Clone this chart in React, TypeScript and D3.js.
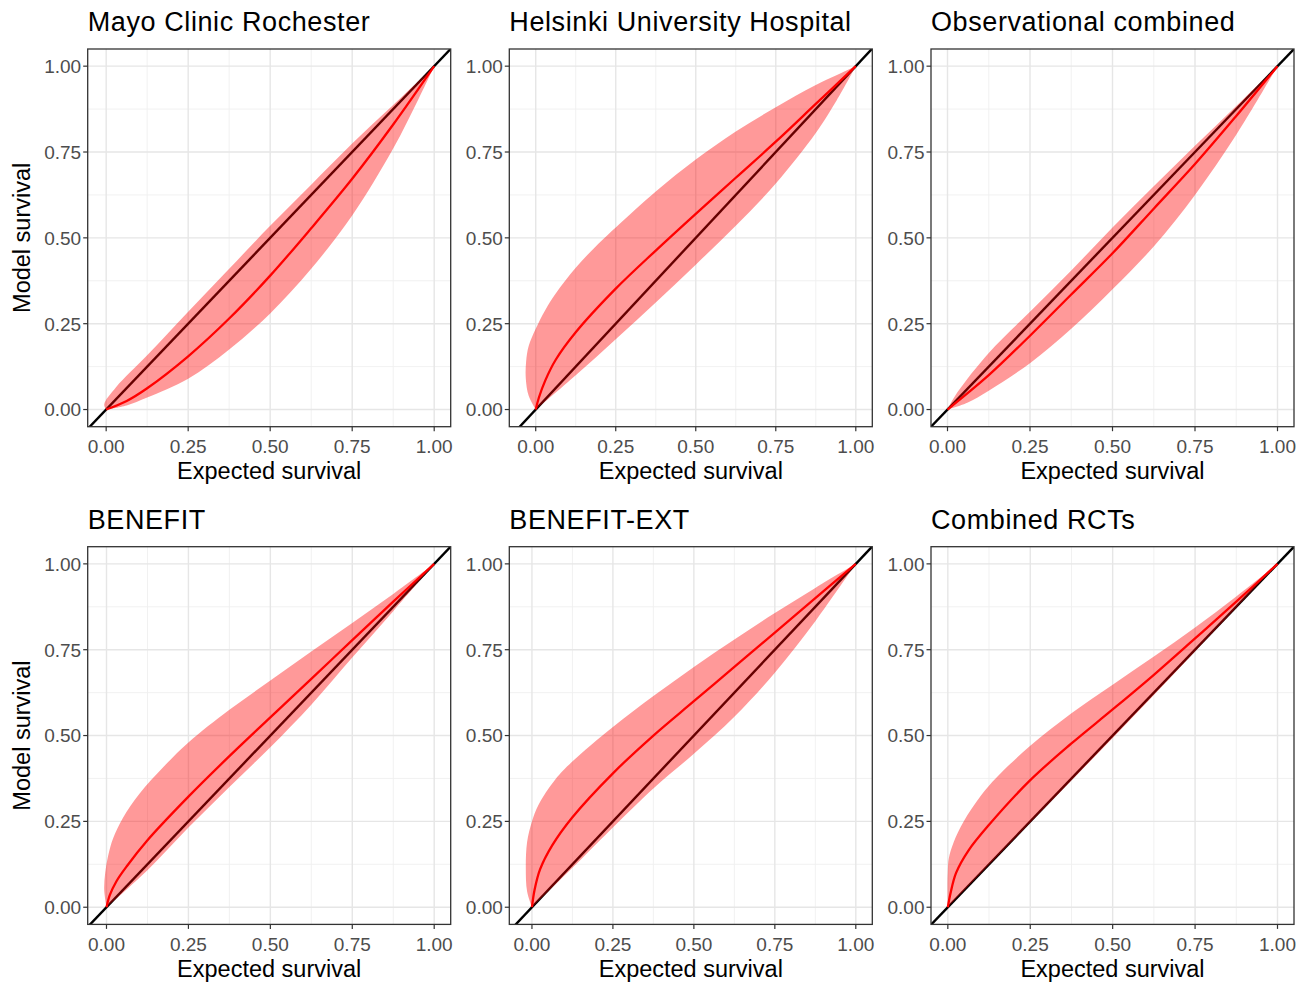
import React from "react";
import * as d3 from "d3";

type Pt = [number, number];

const panelTitles = [
  "Mayo Clinic Rochester",
  "Helsinki University Hospital",
  "Observational combined",
  "BENEFIT",
  "BENEFIT-EXT",
  "Combined RCTs",
];
const tickValues = [0, 0.25, 0.5, 0.75, 1];
const tickLabels = ["0.00", "0.25", "0.50", "0.75", "1.00"];
const minorValues = [0.125, 0.375, 0.625, 0.875];
const xAxisTitle = "Expected survival";
const yAxisTitle = "Model survival";

// Mayo Clinic Rochester
const mayoFit: Pt[] = [[0, 0], [0.0625, 0.025], [0.125, 0.062], [0.25, 0.155], [0.375, 0.265], [0.5, 0.39], [0.625, 0.528], [0.75, 0.672], [0.875, 0.83], [1, 1]];
const mayoUpper: Pt[] = [[0, 0], [-0.006, 0.015], [0.03, 0.065], [0.125, 0.158], [0.25, 0.285], [0.375, 0.41], [0.5, 0.535], [0.625, 0.655], [0.75, 0.775], [0.875, 0.887], [1, 1]];
const mayoLower: Pt[] = [[0, 0], [0.0625, 0.012], [0.125, 0.035], [0.25, 0.09], [0.375, 0.175], [0.5, 0.28], [0.625, 0.41], [0.75, 0.565], [0.875, 0.76], [0.95, 0.9], [1, 1]];

// Helsinki University Hospital
const helsinkiFit: Pt[] = [[0, 0], [0.01, 0.035], [0.03, 0.085], [0.0625, 0.145], [0.125, 0.225], [0.25, 0.352], [0.375, 0.463], [0.5, 0.57], [0.625, 0.675], [0.75, 0.78], [0.875, 0.89], [1, 1]];
const helsinkiUpper: Pt[] = [[0, 0], [-0.022, 0.04], [-0.031, 0.09], [-0.03, 0.14], [-0.022, 0.185], [0, 0.235], [0.03, 0.29], [0.0625, 0.338], [0.125, 0.413], [0.1875, 0.475], [0.25, 0.53], [0.375, 0.635], [0.5, 0.728], [0.625, 0.81], [0.75, 0.88], [0.875, 0.945], [1, 1]];
const helsinkiLower: Pt[] = [[0, 0], [0.125, 0.1], [0.25, 0.205], [0.375, 0.312], [0.5, 0.422], [0.625, 0.535], [0.75, 0.658], [0.875, 0.805], [0.94, 0.9], [1, 1]];

// Observational combined
const obsFit: Pt[] = [[0, 0], [0.125, 0.1], [0.25, 0.215], [0.375, 0.335], [0.5, 0.455], [0.625, 0.585], [0.75, 0.715], [0.875, 0.855], [1, 1]];
const obsUpper: Pt[] = [[0, 0], [0.03, 0.05], [0.125, 0.165], [0.25, 0.285], [0.375, 0.405], [0.5, 0.53], [0.625, 0.65], [0.75, 0.768], [0.875, 0.884], [1, 1]];
const obsLower: Pt[] = [[0, 0], [0.06, 0.02], [0.125, 0.055], [0.25, 0.135], [0.375, 0.235], [0.5, 0.35], [0.625, 0.475], [0.75, 0.625], [0.875, 0.8], [1, 1]];

// BENEFIT
const benefitFit: Pt[] = [[0, 0], [0.01, 0.035], [0.03, 0.075], [0.0625, 0.12], [0.125, 0.195], [0.25, 0.322], [0.375, 0.44], [0.5, 0.553], [0.625, 0.665], [0.75, 0.778], [0.875, 0.89], [1, 1]];
const benefitUpper: Pt[] = [[0, 0], [-0.007, 0.05], [-0.004, 0.1], [0.005, 0.15], [0.02, 0.2], [0.05, 0.26], [0.1, 0.33], [0.175, 0.41], [0.25, 0.48], [0.375, 0.575], [0.5, 0.66], [0.625, 0.745], [0.75, 0.828], [0.875, 0.912], [1, 1]];
const benefitLower: Pt[] = [[0, 0], [0.125, 0.108], [0.25, 0.232], [0.375, 0.35], [0.5, 0.466], [0.625, 0.59], [0.75, 0.727], [0.875, 0.862], [1, 1]];

// BENEFIT-EXT
const extFit: Pt[] = [[0, 0], [0.008, 0.05], [0.025, 0.11], [0.0625, 0.18], [0.125, 0.262], [0.25, 0.39], [0.375, 0.5], [0.5, 0.6], [0.625, 0.7], [0.75, 0.8], [0.875, 0.9], [1, 1]];
const extUpper: Pt[] = [[0, 0], [-0.015, 0.046], [-0.019, 0.114], [-0.015, 0.19], [0, 0.25], [0.02, 0.298], [0.072, 0.372], [0.123, 0.423], [0.25, 0.525], [0.375, 0.615], [0.5, 0.7], [0.625, 0.78], [0.75, 0.857], [0.875, 0.93], [1, 1]];
const extLower: Pt[] = [[0, 0], [0.125, 0.115], [0.226, 0.21], [0.38, 0.35], [0.5, 0.447], [0.625, 0.555], [0.75, 0.683], [0.875, 0.833], [1, 1]];

// Combined RCTs
const rctFit: Pt[] = [[0, 0], [0.008, 0.04], [0.025, 0.1], [0.0625, 0.165], [0.125, 0.24], [0.25, 0.37], [0.375, 0.477], [0.5, 0.576], [0.625, 0.677], [0.75, 0.783], [0.875, 0.89], [1, 1]];
const rctUpper: Pt[] = [[0, 0], [-0.001, 0.06], [0, 0.104], [0.003, 0.143], [0.018, 0.19], [0.048, 0.25], [0.1, 0.325], [0.15, 0.38], [0.25, 0.47], [0.375, 0.565], [0.5, 0.648], [0.625, 0.73], [0.75, 0.815], [0.875, 0.905], [1, 1]];
const rctLower: Pt[] = [[0, 0], [0.25, 0.246], [0.5, 0.493], [0.75, 0.745], [1, 1]];

const panelFits = [mayoFit, helsinkiFit, obsFit, benefitFit, extFit, rctFit];
const panelUppers = [mayoUpper, helsinkiUpper, obsUpper, benefitUpper, extUpper, rctUpper];
const panelLowers = [mayoLower, helsinkiLower, obsLower, benefitLower, extLower, rctLower];

const W = 1309;
const H = 982;
const colLeft = [87.7, 509.3, 931];
const rowTop = [49, 546.7];
const panelW = 363;
const panelH = 377.7;
const FONT = "'Liberation Sans', Arial, Helvetica, sans-serif";

function Panel({ idx }: { idx: number }) {
  const col = idx % 3;
  const row = Math.floor(idx / 3);
  const left = colLeft[col];
  const top = rowTop[row];
  const right = left + panelW;
  const bottom = top + panelH;
  const fit = panelFits[idx];
  const upper = panelUppers[idx];
  const lower = panelLowers[idx];
  const all = [...fit, ...upper, ...lower];
  const [xmin, xmax] = d3.extent(all, (d) => d[0]) as [number, number];
  const [ymin, ymax] = d3.extent(all, (d) => d[1]) as [number, number];
  const xpad = 0.05 * (xmax - xmin);
  const ypad = 0.05 * (ymax - ymin);
  const xs = d3.scaleLinear().domain([xmin - xpad, xmax + xpad]).range([left, right]);
  const ys = d3.scaleLinear().domain([ymin - ypad, ymax + ypad]).range([bottom, top]);
  const lg = d3
    .line<Pt>()
    .x((d) => xs(d[0]))
    .y((d) => ys(d[1]))
    .curve(d3.curveCatmullRom.alpha(0.5));
  const ribbon =
    (lg(upper) || "") + (lg([...lower].reverse()) || "").replace(/^M/, "L") + "Z";
  const [d0, d1] = xs.domain();
  const clipId = `clip-${idx}`;
  const cx = (left + right) / 2;
  const cy = (top + bottom) / 2;
  return (
    <g>
      <defs>
        <clipPath id={clipId}>
          <rect x={left} y={top} width={panelW} height={panelH} />
        </clipPath>
      </defs>
      <rect x={left} y={top} width={panelW} height={panelH} fill="#FFFFFF" />
      <g clipPath={`url(#${clipId})`}>
        {minorValues.map((v) => (
          <g key={`m${v}`}>
            <line x1={xs(v)} x2={xs(v)} y1={top} y2={bottom} stroke="#EFEFEF" strokeWidth={0.9} />
            <line x1={left} x2={right} y1={ys(v)} y2={ys(v)} stroke="#EFEFEF" strokeWidth={0.9} />
          </g>
        ))}
        {tickValues.map((v) => (
          <g key={`g${v}`}>
            <line x1={xs(v)} x2={xs(v)} y1={top} y2={bottom} stroke="#E6E6E6" strokeWidth={1.4} />
            <line x1={left} x2={right} y1={ys(v)} y2={ys(v)} stroke="#E6E6E6" strokeWidth={1.4} />
          </g>
        ))}
        <line x1={xs(d0)} y1={ys(d0)} x2={xs(d1)} y2={ys(d1)} stroke="#000000" strokeWidth={2.4} />
        <path d={ribbon} fill="#FF0000" fillOpacity={0.4} stroke="none" />
        <path d={lg(fit) || ""} fill="none" stroke="#FF0000" strokeWidth={2.3} />
      </g>
      <rect x={left} y={top} width={panelW} height={panelH} fill="none" stroke="#333333" strokeWidth={1.3} />
      {tickValues.map((v, i) => (
        <g key={`t${v}`}>
          <line x1={left - 4.5} x2={left} y1={ys(v)} y2={ys(v)} stroke="#333333" strokeWidth={1.2} />
          <text x={left - 6.5} y={ys(v)} dy="0.36em" textAnchor="end" fontSize={19} fill="#4D4D4D" fontFamily={FONT}>
            {tickLabels[i]}
          </text>
          <line x1={xs(v)} x2={xs(v)} y1={bottom} y2={bottom + 4.5} stroke="#333333" strokeWidth={1.2} />
          <text x={xs(v)} y={bottom + 26.5} textAnchor="middle" fontSize={19} fill="#4D4D4D" fontFamily={FONT}>
            {tickLabels[i]}
          </text>
        </g>
      ))}
      <text x={cx} y={bottom + 52.3} textAnchor="middle" fontSize={23.5} fill="#000000" fontFamily={FONT}>
        {xAxisTitle}
      </text>
      {col === 0 && (
        <text transform={`translate(30,${cy}) rotate(-90)`} textAnchor="middle" fontSize={23.5} fill="#000000" fontFamily={FONT}>
          {yAxisTitle}
        </text>
      )}
      <text x={left} y={top - 18} fontSize={27} fill="#000000" fontFamily={FONT} letterSpacing={0.6}>
        {panelTitles[idx]}
      </text>
    </g>
  );
}

export default function App() {
  return (
    <svg
      width={W}
      height={H}
      viewBox={`0 0 ${W} ${H}`}
      style={{ position: "absolute", left: 0, top: 0, background: "#FFFFFF" }}
    >
      <rect x={0} y={0} width={W} height={H} fill="#FFFFFF" />
      {panelTitles.map((_, i) => (
        <Panel key={i} idx={i} />
      ))}
    </svg>
  );
}
